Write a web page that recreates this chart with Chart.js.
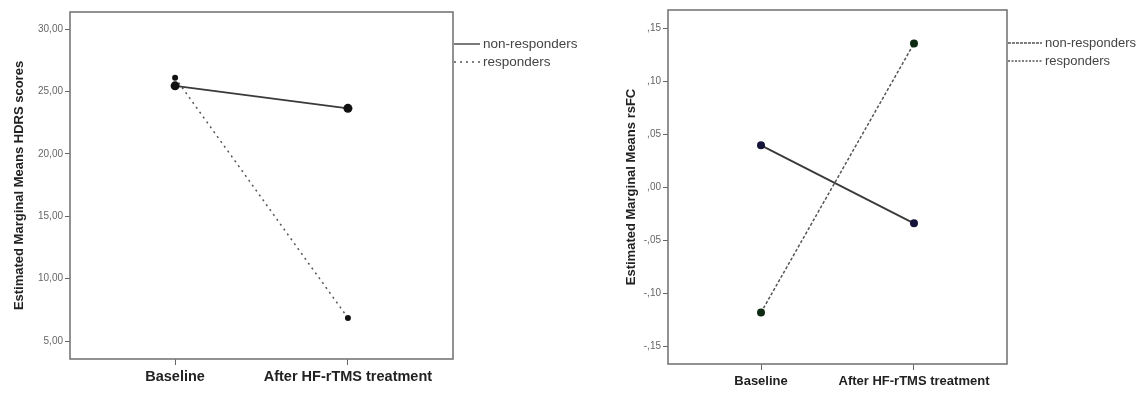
<!DOCTYPE html>
<html>
<head>
<meta charset="utf-8">
<script src="https://cdn.jsdelivr.net/npm/chart.js@4.4.1/dist/chart.umd.min.js"></script>
<style>
  html, body { margin: 0; padding: 0; background: #fff; }
  #wrap { position: relative; width: 1140px; height: 398px; }
  .box { position: absolute; top: 0; height: 398px; }
  #leftBox { left: 0; width: 600px; }
  #rightBox { left: 600px; width: 540px; }
</style>
</head>
<body>
<div id="wrap">
  <div class="box" id="leftBox"><canvas id="hdrsChart"></canvas></div>
  <div class="box" id="rightBox"><canvas id="rsfcChart"></canvas></div>
</div>
<script>
// ---- data ----
const timepoints = ["Baseline", "After HF-rTMS treatment"];
const groups = ["non-responders", "responders"];

const hdrsNonResp = [25.45, 23.65];
const hdrsResp = [26.1, 6.85];
const hdrsTicks = [5, 10, 15, 20, 25, 30];

const rsfcNonResp = [0.0395, -0.034];
const rsfcResp = [-0.118, 0.1355];
const rsfcTicks = [-0.15, -0.10, -0.05, 0.00, 0.05, 0.10, 0.15];

// ---- helpers ----
function pts(arr) { return arr.map((v, i) => ({ x: i, y: v })); }
function commaFmt(v) { return v.toFixed(2).replace(".", ","); }
function spssFmt(v) {
  // SPSS style: ,15  -,05  ,00
  let s = Math.abs(v).toFixed(2).replace(/^0\./, ",");
  return (v < -1e-9 ? "-" : "") + s;
}

// box around plot + legend outside right edge
const frameLegend = {
  id: "frameLegend",
  afterDraw(chart, args, opts) {
    const { ctx, chartArea: a } = chart;
    ctx.save();
    ctx.strokeStyle = "#777";
    ctx.lineWidth = 1.6;
    ctx.strokeRect(a.left, a.top, a.right - a.left, a.bottom - a.top);
    ctx.font = opts.font;
    ctx.fillStyle = "#444";
    ctx.textBaseline = "middle";
    opts.items.forEach((it, i) => {
      const y = opts.y0 + i * opts.gap;
      ctx.beginPath();
      ctx.setLineDash(it.dash);
      ctx.strokeStyle = it.color;
      ctx.lineWidth = 1.3;
      ctx.moveTo(a.right + 1, y);
      ctx.lineTo(a.right + opts.len, y);
      ctx.stroke();
      ctx.setLineDash([]);
      ctx.fillText(it.label, a.right + opts.len + 3, y);
    });
    ctx.restore();
  }
};

function mkChart(id, cfg) {
  const xRange = 0.608;
  return new Chart(document.getElementById(id), {
    type: "line",
    data: {
      datasets: [
        {
          label: groups[0], data: pts(cfg.nonResp),
          borderColor: "#3a3a3a", borderWidth: 1.8,
          pointRadius: cfg.r1, pointBackgroundColor: cfg.c1, pointBorderColor: cfg.c1,
          pointBorderWidth: 0
        },
        {
          label: groups[1], data: pts(cfg.resp),
          borderColor: "#555", borderWidth: 1.5, borderDash: cfg.dash,
          pointRadius: cfg.r2, pointBackgroundColor: cfg.c2, pointBorderColor: cfg.c2,
          pointBorderWidth: 0
        }
      ]
    },
    options: {
      responsive: true,
      maintainAspectRatio: false,
      animation: false,
      layout: { padding: { top: cfg.top, right: cfg.right, left: 0, bottom: 0 } },
      plugins: {
        legend: { display: false },
        tooltip: { enabled: false },
        frameLegend: cfg.legend
      },
      scales: {
        x: {
          type: "linear",
          min: -xRange, max: 1 + xRange,
          afterBuildTicks: (s) => { s.ticks = timepoints.map((_, i) => ({ value: i })); },
          afterFit: (s) => { s.height = cfg.xH; },
          border: { display: false },
          grid: { drawOnChartArea: false, drawTicks: true, tickLength: 6, color: "#666" },
          ticks: {
            padding: cfg.xPad,
            color: "#222",
            font: { family: "Liberation Sans, Arial, sans-serif", size: cfg.xFont, weight: "bold" },
            callback: (v) => timepoints[v]
          }
        },
        y: {
          min: cfg.yMin, max: cfg.yMax,
          afterBuildTicks: (s) => { s.ticks = cfg.ticks.map(v => ({ value: v })); },
          afterFit: (s) => { s.width = cfg.yW; },
          border: { display: false },
          grid: { drawOnChartArea: false, drawTicks: true, tickLength: 5, color: "#666" },
          ticks: {
            padding: 2,
            color: "#666",
            font: { family: "Liberation Sans, Arial, sans-serif", size: 10 },
            callback: cfg.fmt
          },
          title: {
            display: true,
            text: cfg.title,
            color: "#222",
            padding: { top: cfg.titlePad, bottom: 0 },
            font: { family: "Liberation Sans, Arial, sans-serif", size: 13, weight: "bold" }
          }
        }
      }
    },
    plugins: [frameLegend]
  });
}

mkChart("hdrsChart", {
  nonResp: hdrsNonResp, resp: hdrsResp, ticks: hdrsTicks,
  yMin: 3.56, yMax: 31.37, fmt: commaFmt,
  title: "Estimated Marginal Means HDRS scores", titlePad: 12,
  top: 12, right: 147, yW: 70, xH: 39, xPad: 3, xFont: 14.5,
  r1: 4.5, r2: 3, c1: "#111", c2: "#111", dash: [2, 4],
  legend: {
    font: "13.5px 'Liberation Sans', Arial, sans-serif", y0: 44, gap: 18, len: 27,
    items: [
      { label: groups[0], dash: [], color: "#333" },
      { label: groups[1], dash: [2, 4], color: "#555" }
    ]
  }
});

mkChart("rsfcChart", {
  nonResp: rsfcNonResp, resp: rsfcResp, ticks: rsfcTicks,
  yMin: -0.1665, yMax: 0.167, fmt: spssFmt,
  title: "Estimated Marginal Means rsFC", titlePad: 24,
  top: 10, right: 133, yW: 68, xH: 34, xPad: 4, xFont: 13,
  r1: 4, r2: 4, c1: "#15153a", c2: "#0f2a12", dash: [3, 2],
  legend: {
    font: "13px 'Liberation Sans', Arial, sans-serif", y0: 43, gap: 18, len: 35,
    items: [
      { label: groups[0], dash: [3, 1], color: "#555" },
      { label: groups[1], dash: [2, 1.5], color: "#555" }
    ]
  }
});
</script>
</body>
</html>
